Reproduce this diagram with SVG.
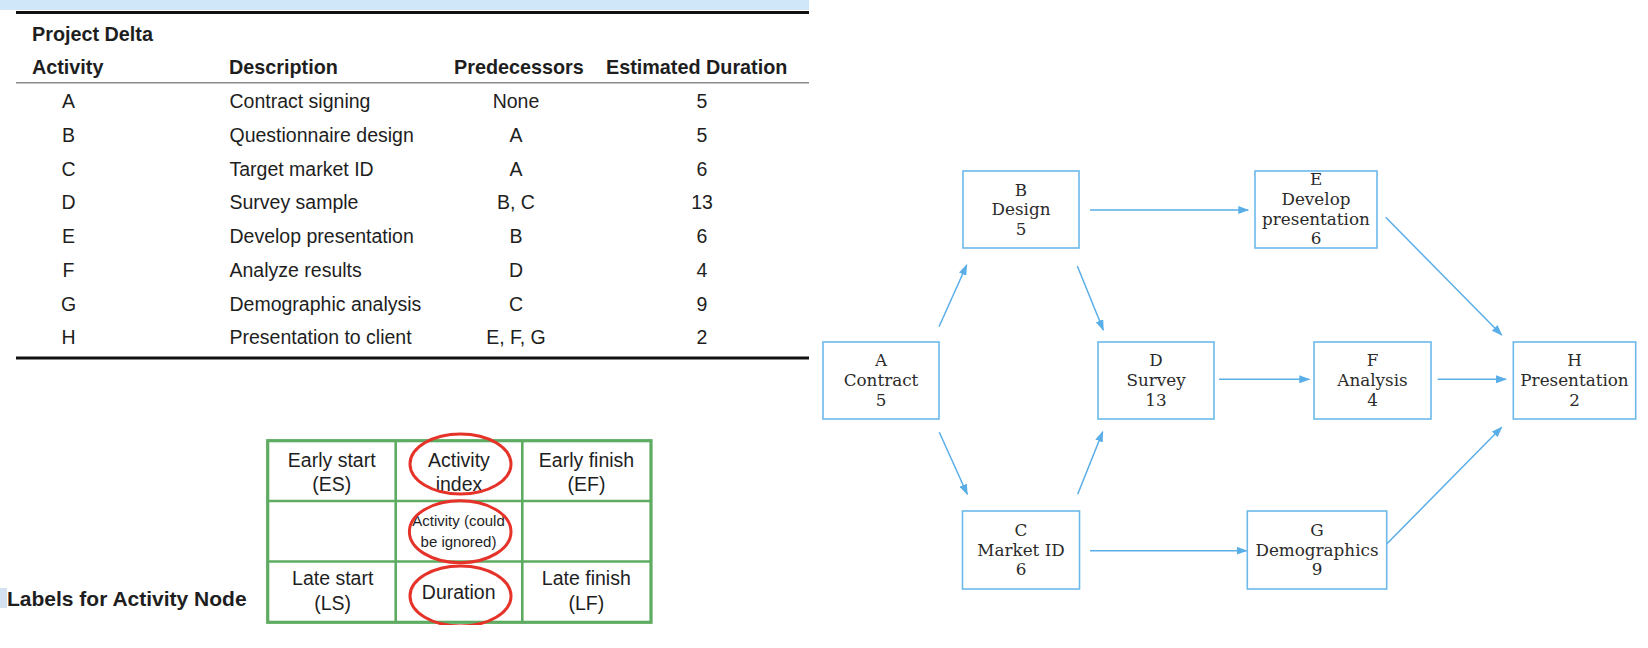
<svg xmlns="http://www.w3.org/2000/svg" width="1648" height="648" viewBox="0 0 1648 648">
<style>
.tb{font-family:"Liberation Sans",Arial,sans-serif;font-size:19.5px;fill:#1e1e1e}
.tbh{font-family:"Liberation Sans",Arial,sans-serif;font-size:19.8px;font-weight:bold;fill:#1e1e1e}
.c{text-anchor:middle}
.gl{font-family:"Liberation Sans",Arial,sans-serif;font-size:19.5px;fill:#1e1e1e;text-anchor:middle}
.gs{font-family:"Liberation Sans",Arial,sans-serif;font-size:15px;fill:#1e1e1e;text-anchor:middle}
.red{fill:none;stroke:#e5332a;stroke-width:3}
.box{fill:#fff;stroke:#6cb9ea;stroke-width:1.6}
.nt{font-family:"DejaVu Serif","Liberation Serif",serif;font-size:16.8px;fill:#2b2b2b;text-anchor:middle}
.arr{stroke:#5aaee8;stroke-width:1.5;fill:none;marker-end:url(#ah)}
</style>
<defs>
<marker id="ah" markerWidth="11" markerHeight="8" refX="10" refY="4" orient="auto" markerUnits="userSpaceOnUse">
<path d="M0,0 L11,4 L0,8 z" fill="#5aaee8"/>
</marker>
<clipPath id="clipE3"><rect x="380" y="560" width="160" height="65"/></clipPath>
</defs>
<rect width="1648" height="648" fill="#fff"/>

<g id="project-table">
<rect x="0" y="0" width="809" height="10" fill="#cfe7f8"/>
<rect x="16" y="11" width="793" height="3" fill="#111"/>
<text class="tbh" x="32" y="41">Project Delta</text>
<text class="tbh" x="32" y="74">Activity</text>
<text class="tbh" x="229" y="74">Description</text>
<text class="tbh" x="454" y="74">Predecessors</text>
<text class="tbh" x="606" y="74">Estimated Duration</text>
<rect x="16" y="82" width="793" height="1.5" fill="#8a8a8a"/>
<g class="tb">
<text class="c" x="68.5" y="108.3">A</text><text x="229.5" y="108.3">Contract signing</text><text class="c" x="516" y="108.3">None</text><text class="c" x="702" y="108.3">5</text>
<text class="c" x="68.5" y="142">B</text><text x="229.5" y="142">Questionnaire design</text><text class="c" x="516" y="142">A</text><text class="c" x="702" y="142">5</text>
<text class="c" x="68.5" y="175.7">C</text><text x="229.5" y="175.7">Target market ID</text><text class="c" x="516" y="175.7">A</text><text class="c" x="702" y="175.7">6</text>
<text class="c" x="68.5" y="209.4">D</text><text x="229.5" y="209.4">Survey sample</text><text class="c" x="516" y="209.4">B, C</text><text class="c" x="702" y="209.4">13</text>
<text class="c" x="68.5" y="243.1">E</text><text x="229.5" y="243.1">Develop presentation</text><text class="c" x="516" y="243.1">B</text><text class="c" x="702" y="243.1">6</text>
<text class="c" x="68.5" y="276.8">F</text><text x="229.5" y="276.8">Analyze results</text><text class="c" x="516" y="276.8">D</text><text class="c" x="702" y="276.8">4</text>
<text class="c" x="68.5" y="310.5">G</text><text x="229.5" y="310.5">Demographic analysis</text><text class="c" x="516" y="310.5">C</text><text class="c" x="702" y="310.5">9</text>
<text class="c" x="68.5" y="344.2">H</text><text x="229.5" y="344.2">Presentation to client</text><text class="c" x="516" y="344.2">E, F, G</text><text class="c" x="702" y="344.2">2</text>
</g>
<rect x="16" y="356.5" width="793" height="3" fill="#111"/>
</g>

<g id="activity-node-legend">
<rect x="0" y="588" width="7" height="20" fill="#d3e1f0"/>
<text class="tbh" x="7" y="606" style="font-size:21px">Labels for Activity Node</text>
<rect x="267.7" y="440.7" width="383.3" height="181.6" fill="#fff" stroke="#5eab62" stroke-width="3.2"/>
<g stroke="#5eab62" stroke-width="2.6">
<line x1="395.7" y1="440.7" x2="395.7" y2="622.3"/>
<line x1="522.3" y1="440.7" x2="522.3" y2="622.3"/>
<line x1="267.7" y1="501" x2="651" y2="501"/>
<line x1="267.7" y1="561.5" x2="651" y2="561.5"/>
</g>
<text class="gl" x="331.7" y="466.7">Early start</text>
<text class="gl" x="331.7" y="490.7">(ES)</text>
<text class="gl" x="459" y="466.7">Activity</text>
<text class="gl" x="459" y="490.7">index</text>
<text class="gl" x="586.5" y="466.7">Early finish</text>
<text class="gl" x="586.5" y="490.7">(EF)</text>
<text class="gs" x="458.5" y="526">Activity (could</text>
<text class="gs" x="458.5" y="546.7">be ignored)</text>
<text class="gl" x="332.7" y="585">Late start</text>
<text class="gl" x="332.7" y="610">(LS)</text>
<text class="gl" x="458.7" y="599">Duration</text>
<text class="gl" x="586.3" y="585">Late finish</text>
<text class="gl" x="586.3" y="610">(LF)</text>
<ellipse class="red" cx="460.5" cy="464" rx="50.5" ry="30"/>
<ellipse class="red" cx="460.2" cy="531.7" rx="50.8" ry="31"/>
<ellipse class="red" cx="460.5" cy="596" rx="50.5" ry="30" clip-path="url(#clipE3)"/>
</g>

<g id="connectors">
<line class="arr" x1="939" y1="326.7" x2="966.7" y2="265"/>
<line class="arr" x1="939.3" y1="432.3" x2="967.3" y2="494.3"/>
<line class="arr" x1="1077.3" y1="266" x2="1103.3" y2="330"/>
<line class="arr" x1="1077.7" y1="494.3" x2="1102.7" y2="431.7"/>
<line class="arr" x1="1090" y1="210" x2="1248.3" y2="210"/>
<line class="arr" x1="1219" y1="379.3" x2="1309.3" y2="379.3"/>
<line class="arr" x1="1090" y1="550.7" x2="1246.7" y2="550.7"/>
<line class="arr" x1="1385.7" y1="217.3" x2="1501.7" y2="335"/>
<line class="arr" x1="1437.7" y1="379.3" x2="1506" y2="379.3"/>
<line class="arr" x1="1386.7" y1="544" x2="1501.7" y2="427.3"/>
</g>

<g id="node-A">
<rect class="box" x="823" y="342" width="116" height="77"/>
<text class="nt" x="881" y="366">A</text><text class="nt" x="881" y="386">Contract</text><text class="nt" x="881" y="405.5">5</text>
</g>
<g id="node-B">
<rect class="box" x="963" y="171" width="116" height="77"/>
<text class="nt" x="1021" y="195.5">B</text><text class="nt" x="1021" y="215.3">Design</text><text class="nt" x="1021" y="235">5</text>
</g>
<g id="node-C">
<rect class="box" x="962.5" y="511" width="117" height="78"/>
<text class="nt" x="1021" y="535.7">C</text><text class="nt" x="1021" y="555.7">Market ID</text><text class="nt" x="1021" y="575">6</text>
</g>
<g id="node-D">
<rect class="box" x="1098" y="342" width="116" height="77"/>
<text class="nt" x="1156" y="366">D</text><text class="nt" x="1156" y="386">Survey</text><text class="nt" x="1156" y="405.5">13</text>
</g>
<g id="node-E">
<rect class="box" x="1255" y="171" width="122" height="77"/>
<text class="nt" x="1316" y="185">E</text><text class="nt" x="1316" y="205">Develop</text><text class="nt" x="1316" y="224.5">presentation</text><text class="nt" x="1316" y="244">6</text>
</g>
<g id="node-F">
<rect class="box" x="1314" y="342" width="117" height="77"/>
<text class="nt" x="1372.5" y="366">F</text><text class="nt" x="1372.5" y="386">Analysis</text><text class="nt" x="1372.5" y="405.5">4</text>
</g>
<g id="node-G">
<rect class="box" x="1247.3" y="511" width="139.4" height="78"/>
<text class="nt" x="1317" y="535.7">G</text><text class="nt" x="1317" y="555.7">Demographics</text><text class="nt" x="1317" y="575">9</text>
</g>
<g id="node-H">
<rect class="box" x="1513.3" y="342" width="122.4" height="77"/>
<text class="nt" x="1574.5" y="366">H</text><text class="nt" x="1574.5" y="386">Presentation</text><text class="nt" x="1574.5" y="405.5">2</text>
</g>
</svg>
